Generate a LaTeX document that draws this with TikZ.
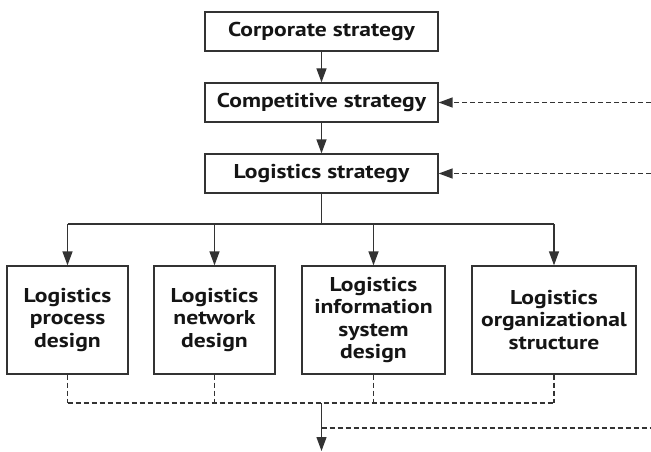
\documentclass[tikz,border=0pt]{standalone}
\usepackage{fontspec}
\setmainfont{PT Sans}[FakeStretch=1.18]
\usetikzlibrary{arrows.meta}
\definecolor{ln}{HTML}{333333}
\definecolor{tx}{HTML}{151515}
\tikzset{
  box/.style={draw=ln, line width=1.3pt, fill=white, text=tx, font=\fontsize{20}{22.5}\selectfont\bfseries, align=center, inner sep=0pt},
  topbox/.style={box, minimum width=233pt, minimum height=39pt},
  lowbox/.style={box, minimum height=108pt},
  conn/.style={draw=ln, line width=1.3pt},
  arr/.style={conn, -{Triangle[length=14pt,width=10pt]}},
  dashconn/.style={conn, line width=1.4pt, dash pattern=on 5pt off 3pt},
  darr/.style={dashconn, -{Triangle[length=14pt,width=10pt]}}
}
\begin{document}
\begin{tikzpicture}[x=1pt,y=-1pt]
\useasboundingbox (0,0) rectangle (651,452);
\node[topbox] (corp) at (321.5,31.5) {Corporate strategy};
\node[topbox] (comp) at (321.5,102.5) {Competitive strategy};
\node[topbox] (logs) at (321.5,173.5) {Logistics strategy};
\node[lowbox, minimum width=121pt] (a) at (67.5,320) {Logistics\\process\\design};
\node[lowbox, minimum width=121pt] (b) at (214.5,320) {Logistics\\network\\design};
\node[lowbox, minimum width=143pt] (c) at (373.5,320) {Logistics\\information\\system\\design};
\node[lowbox, minimum width=164pt] (d) at (554,320) {Logistics\\organizational\\structure};
\coordinate (rin1) at (651,102.5);
\coordinate (rin2) at (651,173.5);
\coordinate (split) at (321.5,224);
\coordinate (join) at (321.5,403);
\coordinate (out) at (321.5,451);
\coordinate (rout) at (651,428);
\draw[arr] (corp) -- (comp);
\draw[arr] (comp) -- (logs);
\draw[darr] (rin1) -- (comp.east);
\draw[darr] (rin2) -- (logs.east);
\draw[conn] (logs.south) -- (split);
\draw[conn] (a.north |- split) -- (d.north |- split);
\foreach \n in {a,b,c,d} \draw[arr] (\n.north |- split) -- (\n.north);
\foreach \n in {a,b,c,d} \draw[dashconn] (\n.south) -- (\n.south |- join);
\draw[dashconn] (a.south |- join) -- (d.south |- join);
\draw[arr] (join) -- (out);
\draw[dashconn] (join |- rout) -- (rout);
\end{tikzpicture}
\end{document}
